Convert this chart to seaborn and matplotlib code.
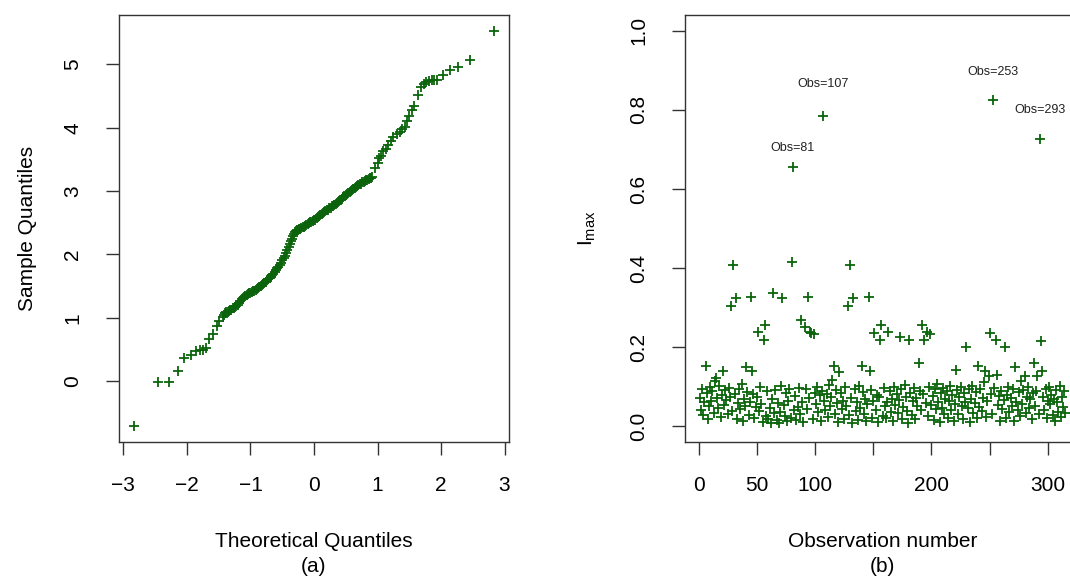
import matplotlib
matplotlib.use("Agg")
import matplotlib.pyplot as plt
import seaborn as sns

# (a) normal QQ plot
theoretical_q = [-2.84, -2.46, -2.28, -2.14, -2.04, -1.94, -1.86, -1.80, -1.74, -1.70,
                 -1.65, -1.59, -1.53, -1.49,
                 -1.44, -1.40, -1.36, -1.32, -1.28, -1.24, -1.20, -1.16, -1.12, -1.08,
                 -1.04, -1.00, -0.96, -0.92, -0.88, -0.84, -0.80, -0.76, -0.72, -0.68,
                 -0.64, -0.60, -0.56, -0.52, -0.48, -0.44, -0.40, -0.36, -0.33, -0.30,
                 -0.27, -0.24, -0.20, -0.16, -0.12, -0.08, -0.04, 0.00, 0.04, 0.08,
                 0.12, 0.16, 0.20, 0.24, 0.28, 0.32, 0.36, 0.40, 0.44, 0.48,
                 0.52, 0.56, 0.60, 0.64, 0.68, 0.72, 0.76, 0.80, 0.84, 0.88, 0.92,
                 0.96, 1.00, 1.02, 1.06, 1.09, 1.13, 1.17, 1.21, 1.25, 1.30,
                 1.35, 1.39, 1.43, 1.47, 1.50, 1.55, 1.58, 1.64, 1.69, 1.73,
                 1.77, 1.81, 1.85, 1.89, 1.93, 2.03, 2.14, 2.27, 2.45, 2.83]
sample_q = [-0.71, -0.02, -0.02, 0.16, 0.36, 0.42, 0.47, 0.49, 0.50, 0.52,
            0.66, 0.75, 0.87, 0.95,
            1.02, 1.07, 1.10, 1.12, 1.15, 1.17, 1.20, 1.26, 1.31, 1.34,
            1.38, 1.40, 1.42, 1.44, 1.47, 1.50, 1.53, 1.57, 1.61, 1.65,
            1.70, 1.75, 1.80, 1.87, 1.95, 2.02, 2.12, 2.21, 2.29, 2.35,
            2.38, 2.40, 2.42, 2.44, 2.47, 2.50, 2.52, 2.54, 2.57, 2.61,
            2.64, 2.67, 2.70, 2.73, 2.76, 2.78, 2.81, 2.85, 2.88, 2.92,
            2.96, 2.99, 3.02, 3.05, 3.08, 3.11, 3.14, 3.16, 3.18, 3.20, 3.23,
            3.36, 3.45, 3.52, 3.56, 3.63, 3.67, 3.73, 3.79, 3.85, 3.90,
            3.94, 3.98, 4.02, 4.10, 4.18, 4.28, 4.35, 4.52, 4.65, 4.69,
            4.73, 4.74, 4.75, 4.76, 4.76, 4.83, 4.91, 4.96, 5.07, 5.53]
# the packed middle of the curve, between the points above
theoretical_mid = [-1.42, -1.38, -1.34, -1.30, -1.26, -1.22, -1.18, -1.14, -1.10, -1.06,
                   -1.02, -0.98, -0.94, -0.90, -0.86, -0.82, -0.78, -0.74, -0.70, -0.66,
                   -0.62, -0.58, -0.54, -0.50, -0.46, -0.42, -0.38, -0.345, -0.315, -0.285,
                   -0.255, -0.22, -0.18, -0.14, -0.10, -0.06, -0.02, 0.02, 0.06, 0.10,
                   0.14, 0.18, 0.22, 0.26, 0.30, 0.34, 0.38, 0.42, 0.46, 0.50,
                   0.54, 0.58, 0.62, 0.66, 0.70, 0.74, 0.78, 0.82, 0.86, 0.90]
sample_mid = [1.05, 1.09, 1.11, 1.13, 1.16, 1.19, 1.23, 1.29, 1.33, 1.36,
              1.39, 1.41, 1.43, 1.45, 1.49, 1.52, 1.55, 1.59, 1.63, 1.67,
              1.72, 1.78, 1.83, 1.91, 1.98, 2.07, 2.16, 2.25, 2.32, 2.37,
              2.39, 2.41, 2.43, 2.45, 2.48, 2.51, 2.53, 2.55, 2.59, 2.62,
              2.65, 2.68, 2.71, 2.74, 2.77, 2.80, 2.83, 2.86, 2.90, 2.94,
              2.97, 3.00, 3.03, 3.06, 3.09, 3.12, 3.15, 3.17, 3.19, 3.21]

# (b) I_max for each observation (obs 1..315)
imax = [0.072, 0.041, 0.093, 0.028, 0.061, 0.153, 0.084, 0.019, 0.052, 0.098,
        0.063, 0.089, 0.034, 0.115, 0.122, 0.071, 0.045, 0.102, 0.023, 0.079,
        0.140, 0.054, 0.091, 0.066, 0.031, 0.097, 0.074, 0.303, 0.038, 0.407,
        0.082, 0.324, 0.017, 0.058, 0.094, 0.043, 0.108, 0.012, 0.069, 0.051,
        0.150, 0.087, 0.029, 0.062, 0.328, 0.140, 0.081, 0.021, 0.048, 0.073,
        0.239, 0.039, 0.099, 0.057, 0.011, 0.217, 0.256, 0.026, 0.088, 0.018,
        0.047, 0.009, 0.068, 0.337, 0.033, 0.092, 0.016, 0.059, 0.008, 0.037,
        0.101, 0.324, 0.053, 0.027, 0.083, 0.012, 0.064, 0.095, 0.022, 0.415,
        0.655, 0.042, 0.076, 0.015, 0.049, 0.097, 0.032, 0.269, 0.061, 0.010,
        0.250, 0.093, 0.044, 0.328, 0.072, 0.239, 0.237, 0.019, 0.233, 0.085,
        0.056, 0.099, 0.035, 0.078, 0.013, 0.090, 0.785, 0.063, 0.040, 0.081,
        0.024, 0.103, 0.050, 0.074, 0.118, 0.153, 0.030, 0.092, 0.059, 0.011,
        0.138, 0.083, 0.043, 0.065, 0.018, 0.098, 0.052, 0.303, 0.028, 0.407,
        0.071, 0.009, 0.324, 0.094, 0.038, 0.062, 0.016, 0.101, 0.047, 0.152,
        0.086, 0.031, 0.069, 0.012, 0.055, 0.328, 0.140, 0.091, 0.021, 0.064,
        0.237, 0.041, 0.079, 0.010, 0.073, 0.217, 0.256, 0.027, 0.097, 0.051,
        0.020, 0.060, 0.239, 0.088, 0.037, 0.070, 0.014, 0.100, 0.054, 0.082,
        0.033, 0.066, 0.225, 0.093, 0.019, 0.048, 0.104, 0.075, 0.039, 0.008,
        0.217, 0.084, 0.029, 0.063, 0.097, 0.017, 0.072, 0.050, 0.161, 0.090,
        0.042, 0.256, 0.081, 0.217, 0.058, 0.239, 0.026, 0.099, 0.233, 0.053,
        0.076, 0.015, 0.094, 0.044, 0.107, 0.061, 0.010, 0.083, 0.047, 0.096,
        0.032, 0.070, 0.089, 0.022, 0.065, 0.102, 0.040, 0.079, 0.012, 0.056,
        0.142, 0.091, 0.030, 0.073, 0.098, 0.052, 0.018, 0.085, 0.062, 0.200,
        0.045, 0.093, 0.011, 0.068, 0.101, 0.034, 0.059, 0.087, 0.020, 0.152,
        0.049, 0.095, 0.038, 0.071, 0.112, 0.140, 0.024, 0.064, 0.127, 0.237,
        0.082, 0.031, 0.825, 0.097, 0.217, 0.129, 0.054, 0.076, 0.013, 0.090,
        0.043, 0.066, 0.200, 0.021, 0.080, 0.100, 0.035, 0.072, 0.051, 0.094,
        0.014, 0.150, 0.061, 0.040, 0.086, 0.025, 0.114, 0.057, 0.092, 0.127,
        0.033, 0.074, 0.099, 0.046, 0.068, 0.019, 0.083, 0.161, 0.052, 0.089,
        0.127, 0.030, 0.726, 0.215, 0.140, 0.073, 0.042, 0.095, 0.022, 0.063,
        0.098, 0.055, 0.079, 0.028, 0.070, 0.013, 0.091, 0.060, 0.037, 0.102,
        0.024, 0.075, 0.049, 0.088, 0.034]
obs = list(range(1, len(imax) + 1))

flagged = [81, 107, 253, 293]
flag_offsets = [14, 23, 20, 21]  # points above the marker

x_ticks_b = [0, 50, 100, 150, 200, 250, 300]
x_ticklabels_b = ["0", "50", "100", "", "200", "", "300"]

sns.set_style("ticks")
plt.rcParams["font.family"] = ["Liberation Sans", "DejaVu Sans"]
plt.rcParams["mathtext.default"] = "regular"
plt.rcParams["text.color"] = "black"
plt.rcParams["axes.labelcolor"] = "black"
plt.rcParams["xtick.labelcolor"] = "black"
plt.rcParams["ytick.labelcolor"] = "black"

green = "#0b640b"
fs = 15

fig = plt.figure(figsize=(10.7, 5.82), dpi=100)
ax1 = fig.add_axes([0.1112, 0.2405, 0.3645, 0.7337])
ax2 = fig.add_axes([0.6402, 0.2405, 0.3692, 0.7337])

sns.scatterplot(x=theoretical_q, y=sample_q, ax=ax1, marker="+", color=green,
                s=48, linewidth=1.3)
sns.scatterplot(x=theoretical_mid, y=sample_mid, ax=ax1, marker="+", color=green,
                s=48, linewidth=1.3)
ax1.set_xlim(-3.07, 3.07)
ax1.set_ylim(-0.96, 5.78)
ax1.set_xticks([-3, -2, -1, 0, 1, 2, 3])
ax1.set_xticklabels(["\u22123", "\u22122", "\u22121", "0", "1", "2", "3"])
ax1.set_yticks([0, 1, 2, 3, 4, 5])
ax1.set_xlabel("Theoretical Quantiles\n(a)", fontsize=fs, linespacing=1.45)
ax1.set_ylabel("Sample Quantiles", fontsize=fs)

sns.scatterplot(x=obs, y=imax, ax=ax2, marker="+", color=green,
                s=48, linewidth=1.3)
for o, off in zip(flagged, flag_offsets):
    ax2.annotate(f"Obs={o}", (o, imax[o - 1]), xytext=(0, off),
                 textcoords="offset points", ha="center", va="center",
                 fontsize=9, color="#222222")
ax2.set_xlim(-11.6, 327.6)
ax2.set_ylim(-0.04, 1.04)
ax2.set_xticks(x_ticks_b)
ax2.set_xticklabels(x_ticklabels_b)
ax2.set_yticks([0.0, 0.2, 0.4, 0.6, 0.8, 1.0])
ax2.set_yticklabels(["0.0", "0.2", "0.4", "0.6", "0.8", "1.0"])
ax2.set_xlabel("Observation number\n(b)", fontsize=fs, linespacing=1.45)
ax2.set_ylabel("$I_{max}$", fontsize=fs)

for ax, ylx in ((ax1, -0.21), (ax2, -0.22)):
    for sp in ax.spines.values():
        sp.set_visible(True)
        sp.set_color("#333333")
        sp.set_linewidth(1.0)
    ax.tick_params(direction="out", length=9.5, width=1.0, color="#333333",
                   labelsize=fs)
    ax.tick_params(axis="x", pad=15)
    ax.tick_params(axis="y", pad=17)
    for lab in ax.get_yticklabels():
        lab.set_rotation(90)
        lab.set_va("center")
    ax.yaxis.set_label_coords(ylx, 0.5)
    ax.xaxis.set_label_coords(0.5, -0.21)

fig.savefig("out.png", dpi=100)
